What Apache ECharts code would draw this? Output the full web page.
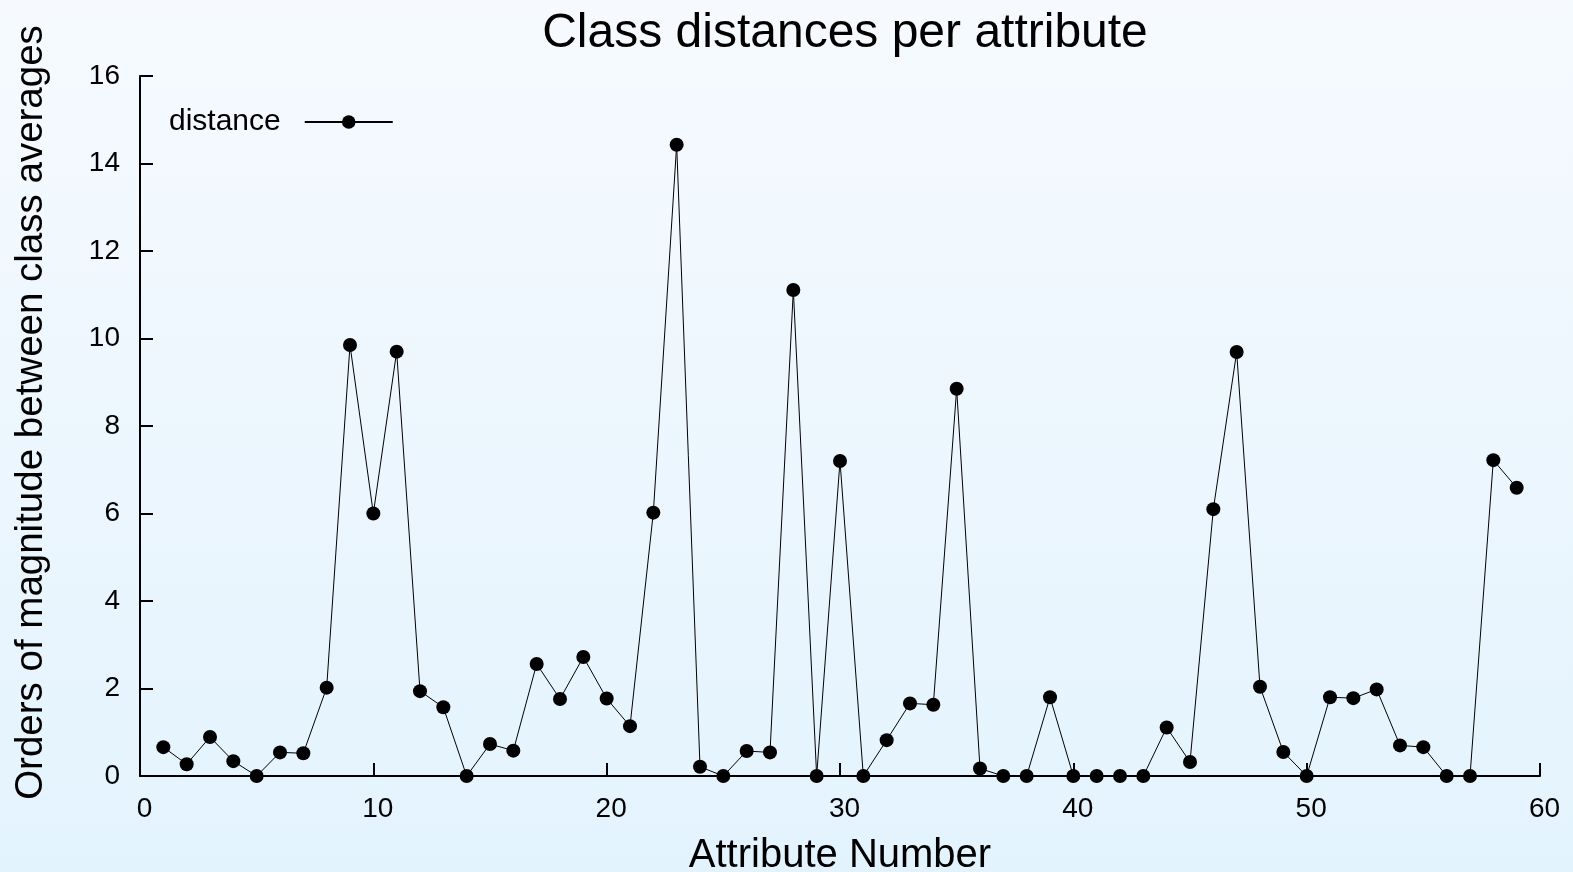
<!DOCTYPE html>
<html>
<head>
<meta charset="utf-8">
<script src="https://cdn.jsdelivr.net/npm/echarts@6/dist/echarts.min.js"></script>
<style>
html,body{margin:0;padding:0;}
#chart{width:1573px;height:872px;}
</style>
</head>
<body>
<div id="chart"></div>
<script>
var attributes = [1,2,3,4,5,6,7,8,9,10,11,12,13,14,15,16,17,18,19,20,21,22,23,24,25,26,27,28,29,30,31,32,33,34,35,36,37,38,39,40,41,42,43,44,45,46,47,48,49,50,51,52,53,54,55,56,57,58,59];
var distance = [0.66,0.27,0.89,0.34,0,0.54,0.52,2.02,9.85,6.00,9.70,1.94,1.57,0,0.73,0.58,2.56,1.76,2.72,1.77,1.14,6.02,14.43,0.21,0,0.57,0.54,11.11,0,7.20,0,0.82,1.66,1.63,8.85,0.17,0,0,1.80,0,0,0,0,1.11,0.32,6.10,9.69,2.04,0.55,0,1.80,1.78,1.98,0.70,0.66,0,0,7.22,6.59];
var yTicks = [0,2,4,6,8,10,12,14,16];
var xTicks = [0,10,20,30,40,50,60];

var font = '"Liberation Sans", Arial, Helvetica, sans-serif';
var points = attributes.map(function(a, i){ return [a, distance[i]]; });

var chart = echarts.init(document.getElementById('chart'));
chart.setOption({
  animation: false,
  backgroundColor: {
    type: 'linear', x: 0, y: 0, x2: 0, y2: 1,
    colorStops: [{offset: 0, color: '#f6faff'}, {offset: 1, color: '#e3f3fd'}]
  },
  title: {
    text: 'Class distances per attribute',
    left: 840, top: 5, textAlign: 'center',
    textStyle: {fontFamily: font, fontSize: 48, fontWeight: 'normal', color: '#000'}
  },
  legend: {
    left: 164, top: 102,
    align: 'right',
    itemWidth: 88, itemHeight: 17,
    textStyle: {fontFamily: font, fontSize: 30, color: '#000', padding: [0, 19, 0, 0]},
    data: ['distance']
  },
  grid: {left: 140, right: 33, top: 76, bottom: 96, outerBoundsMode: 'none', containLabel: false},
  xAxis: {
    type: 'value', min: xTicks[0], max: xTicks[xTicks.length-1], interval: 10,
    name: 'Attribute Number', nameLocation: 'middle', nameGap: 60,
    nameTextStyle: {fontFamily: font, fontSize: 40, color: '#000'},
    axisLine: {show: true, lineStyle: {color: '#000', width: 2}},
    axisTick: {show: true, inside: true, length: 13, lineStyle: {color: '#000', width: 2}},
    axisLabel: {fontFamily: font, fontSize: 28, color: '#000', margin: 19, padding: [0, 0, 0, 9]},
    splitLine: {show: false}
  },
  yAxis: {
    type: 'value', min: yTicks[0], max: yTicks[yTicks.length-1], interval: 2,
    name: 'Orders of magnitude between class averages', nameLocation: 'middle', nameGap: 89,
    nameTextStyle: {fontFamily: font, fontSize: 38.5, color: '#000', padding: [0, 0, 0, 27]},
    axisLine: {show: true, lineStyle: {color: '#000', width: 2}},
    axisTick: {show: true, inside: true, length: 13, lineStyle: {color: '#000', width: 2}},
    axisLabel: {fontFamily: font, fontSize: 28, color: '#000', margin: 20},
    splitLine: {show: false}
  },
  series: [{
    name: 'distance',
    type: 'line',
    data: points,
    symbol: 'circle', symbolSize: 14,
    itemStyle: {color: '#000'},
    lineStyle: {color: '#000', width: 1}
  }]
});
</script>
</body>
</html>
